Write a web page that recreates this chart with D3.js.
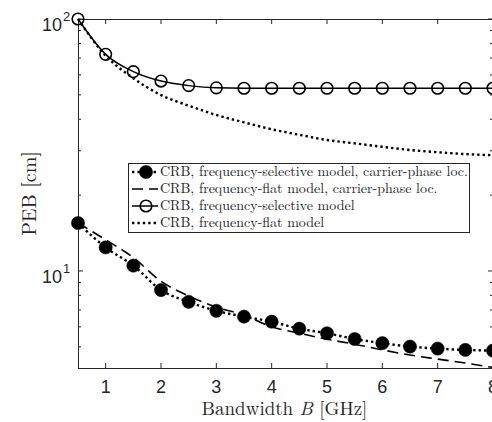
<!DOCTYPE html>
<html>
<head>
  <meta charset="utf-8" />
  <script src="https://d3js.org/d3.v7.min.js"></script>
  <style>
    body { margin: 0; background: #fff; }
    .tick-lbl { font-family: "Liberation Sans", Arial, sans-serif; font-size: 18px; fill: #262626; }
    .serif { font-family: "Latin Modern Roman", "CMU Serif", "Liberation Serif", serif; fill: #262626; }
  </style>
</head>
<body>
<script>
  // - - - - - DATA - - - - - //
  var bw = [0.5, 1, 1.5, 2, 2.5, 3, 3.5, 4, 4.5, 5, 5.5, 6, 6.5, 7, 7.5, 8];

  // CRB, frequency-selective model, carrier-phase loc.
  var selCarrier = [15.5, 12.4, 10.5, 8.4, 7.54, 6.95, 6.59, 6.29, 5.9, 5.66, 5.37, 5.17, 5.01, 4.92, 4.86, 4.83];
  // CRB, frequency-flat model, carrier-phase loc.
  var flatCarrier = [15.5, 13.3, 11.3, 9.1, 7.96, 7.18, 6.68, 6.0, 5.66, 5.36, 5.12, 4.86, 4.64, 4.47, 4.31, 4.14];
  // CRB, frequency-selective model
  var selModel = [100, 72.4, 61.8, 56.7, 54.4, 53.3, 53.1, 53.1, 53.1, 53.1, 53.1, 53.1, 53.1, 53.1, 53.1, 53.1];
  // CRB, frequency-flat model
  var flatModel = [100, 71.5, 58.2, 49.9, 45.3, 41.6, 38.9, 36.5, 34.7, 33.1, 32.1, 31.1, 30.2, 29.6, 29.1, 28.8];

  var xTicks = [1, 2, 3, 4, 5, 6, 7, 8];
  var yMajor = [10, 100];
  var yMinor = [5, 6, 7, 8, 9, 20, 30, 40, 50, 60, 70, 80, 90];

  var legendLabels = [
    "CRB, frequency-selective model, carrier-phase loc.",
    "CRB, frequency-flat model, carrier-phase loc.",
    "CRB, frequency-selective model",
    "CRB, frequency-flat model"
  ];

  // - - - - - LAYOUT - - - - - //
  var W = 492, H = 422;
  var mLeft = 78, mRight = 493, mTop = 19, mBottom = 368;

  var x = d3.scaleLinear().domain([0.5, 8]).range([mLeft, mRight]);
  var y = d3.scaleLog().domain([4.12, 100]).range([mBottom, mTop]);

  var svg = d3.select("body").append("svg")
      .attr("width", W)
      .attr("height", H);

  var axisColor = "#262626";

  // box
  svg.append("rect")
      .attr("x", mLeft + 0.5).attr("y", mTop + 0.5)
      .attr("width", mRight - mLeft).attr("height", mBottom - mTop)
      .attr("fill", "none")
      .attr("stroke", axisColor)
      .attr("stroke-width", 1);

  // x ticks (inward, bottom and top)
  var tickLen = 5;
  xTicks.forEach(function(t) {
    svg.append("line").attr("x1", x(t)).attr("x2", x(t))
        .attr("y1", mBottom).attr("y2", mBottom - tickLen)
        .attr("stroke", axisColor);
    svg.append("line").attr("x1", x(t)).attr("x2", x(t))
        .attr("y1", mTop).attr("y2", mTop + tickLen)
        .attr("stroke", axisColor);
    svg.append("text").attr("class", "tick-lbl")
        .attr("x", x(t)).attr("y", mBottom + 25)
        .attr("text-anchor", "middle")
        .text(t);
  });

  // y ticks
  yMajor.concat(yMinor).forEach(function(t) {
    var len = yMajor.indexOf(t) >= 0 ? tickLen : 3;
    svg.append("line").attr("x1", mLeft).attr("x2", mLeft + len)
        .attr("y1", y(t)).attr("y2", y(t))
        .attr("stroke", axisColor);
    svg.append("line").attr("x1", mRight).attr("x2", mRight - len)
        .attr("y1", y(t)).attr("y2", y(t))
        .attr("stroke", axisColor);
  });

  yMajor.forEach(function(t) {
    var e = Math.round(Math.log10(t));
    svg.append("text").attr("class", "tick-lbl")
        .attr("x", mLeft - 16).attr("y", y(t) + 12)
        .attr("text-anchor", "end")
        .text("10");
    svg.append("text").attr("class", "tick-lbl")
        .style("font-size", "13px")
        .attr("x", mLeft - 15).attr("y", y(t) + 2)
        .text(e);
  });

  // axis labels
  var xl = svg.append("text").attr("class", "serif")
      .attr("x", (mLeft + mRight) / 2 - 1).attr("y", 415)
      .attr("text-anchor", "middle")
      .style("font-size", "19px");
  xl.append("tspan").text("Bandwidth ");
  xl.append("tspan").style("font-style", "italic").text("B");
  xl.append("tspan").text(" [GHz]");

  svg.append("text").attr("class", "serif")
      .attr("transform", "translate(36," + (mTop + mBottom) / 2 + ") rotate(-90)")
      .attr("text-anchor", "middle")
      .style("font-size", "20px")
      .text("PEB [cm]");

  // - - - - - SERIES - - - - - //
  function pts(vals) {
    return bw.map(function(b, i) { return [b, vals[i]]; });
  }
  var line = d3.line()
      .x(function(d) { return x(d[0]); })
      .y(function(d) { return y(d[1]); })
      .curve(d3.curveMonotoneX);

  var styles = [
    { vals: flatModel, dash: "2.4,3", width: 2.4, marker: null },
    { vals: flatCarrier, dash: "11,6", width: 1.6, marker: null },
    { vals: selModel, dash: null, width: 1.5, marker: "open" },
    { vals: selCarrier, dash: "2.4,3", width: 2.4, marker: "filled" }
  ];

  styles.forEach(function(s) {
    svg.append("path")
        .datum(pts(s.vals))
        .attr("d", line)
        .attr("fill", "none")
        .attr("stroke", "#000")
        .attr("stroke-width", s.width)
        .attr("stroke-dasharray", s.dash);
    if (s.marker) {
      svg.append("g").selectAll("circle")
          .data(pts(s.vals))
        .enter().append("circle")
          .attr("cx", function(d) { return x(d[0]); })
          .attr("cy", function(d) { return y(d[1]); })
          .attr("r", s.marker == "filled" ? 6.6 : 5.8)
          .attr("fill", s.marker == "filled" ? "#000" : "none")
          .attr("stroke", "#000")
          .attr("stroke-width", s.marker == "filled" ? 0.5 : 1.6);
    }
  });

  // - - - - - LEGEND - - - - - //
  var lg = svg.append("g");
  lg.append("rect")
      .attr("x", 128.5).attr("y", 163.5)
      .attr("width", 341).attr("height", 69)
      .attr("fill", "#fff")
      .attr("stroke", axisColor)
      .attr("stroke-width", 1);

  var legendStyles = [styles[3], styles[1], styles[2], styles[0]];
  legendLabels.forEach(function(lbl, i) {
    var s = legendStyles[i];
    var cy = 172 + i * 17;
    lg.append("line")
        .attr("x1", 132).attr("x2", 158)
        .attr("y1", cy).attr("y2", cy)
        .attr("stroke", "#000")
        .attr("stroke-width", s.width)
        .attr("stroke-dasharray", s.dash);
    if (s.marker) {
      lg.append("circle")
          .attr("cx", 146).attr("cy", cy)
          .attr("r", s.marker == "filled" ? 6.6 : 5.8)
          .attr("fill", s.marker == "filled" ? "#000" : "none")
          .attr("stroke", "#000")
          .attr("stroke-width", s.marker == "filled" ? 0.5 : 1.6);
    }
    lg.append("text").attr("class", "serif")
        .attr("x", 160).attr("y", cy + 4)
        .style("font-size", "14px")
        .text(lbl);
  });
</script>
</body>
</html>
